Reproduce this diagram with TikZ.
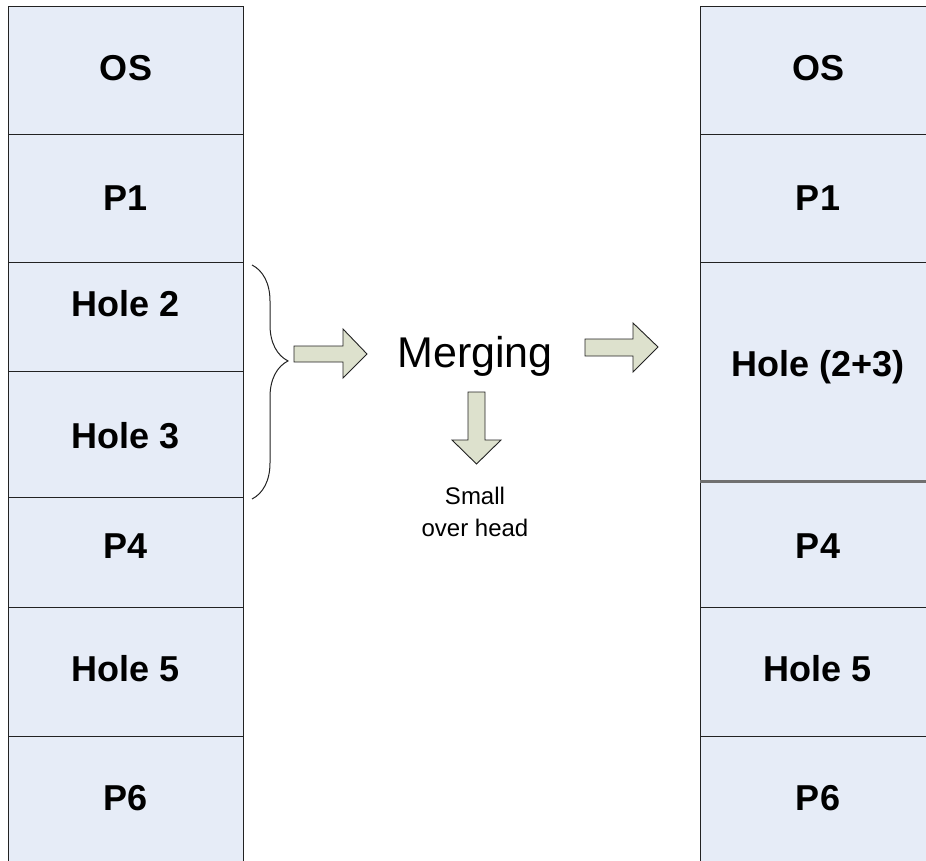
\documentclass[tikz,border=0pt]{standalone}
\usepackage{fontspec}
\setmainfont{Liberation Sans}
\usetikzlibrary{decorations.pathreplacing}
\definecolor{cellfill}{HTML}{E6ECF7}
\definecolor{arrowfill}{HTML}{DDE1CD}
\definecolor{edge}{HTML}{222222}
\definecolor{splitline}{HTML}{707070}
\begin{document}
\begin{tikzpicture}[x=1pt,y=-1pt,
  cell/.style={rectangle, draw=edge, line width=1pt, fill=cellfill,
               inner sep=0pt, outer sep=0pt, anchor=north west},
  lbl/.style={font=\fontsize{36}{40}\selectfont\bfseries, inner sep=0pt, anchor=base},
  blockarrow/.style={draw=edge, line width=0.9pt, fill=arrowfill, line join=miter},
  bigtext/.style={font=\fontsize{43}{48}\selectfont, inner sep=0pt, anchor=base},
  smalltext/.style={font=\fontsize{24}{28}\selectfont, inner sep=0pt, anchor=base}
]
\useasboundingbox (0,0) rectangle (926,861);

% memory before merging
\node[cell, minimum width=235pt, minimum height=128pt] (L1) at (8,7) {};
\node[cell, minimum width=235pt, minimum height=127pt] (L2) at (8,135) {};
\node[cell, minimum width=235pt, minimum height=109pt] (L3) at (8,262) {};
\node[cell, minimum width=235pt, minimum height=126pt] (L4) at (8,371) {};
\node[cell, minimum width=235pt, minimum height=110pt] (L5) at (8,497) {};
\node[cell, minimum width=235pt, minimum height=129pt] (L6) at (8,607) {};
\node[cell, minimum width=235pt, minimum height=140pt] (L7) at (8,736) {};

\node[lbl] (tL1) at (126,81) {OS};
\node[lbl] (tL2) at (126,211) {P1};
\node[lbl] (tL3) at (126,316) {Hole 2};
\node[lbl] (tL4) at (126,448) {Hole 3};
\node[lbl] (tL5) at (126,558) {P4};
\node[lbl] (tL6) at (126,681.5) {Hole 5};
\node[lbl] (tL7) at (126,810) {P6};

% memory after merging (runs past the right edge)
\node[cell, minimum width=260pt, minimum height=128pt] (R1) at (700,7) {};
\node[cell, minimum width=260pt, minimum height=127pt] (R2) at (700,135) {};
\node[cell, minimum width=260pt, minimum height=219pt] (R3) at (700,262) {};
\node[cell, minimum width=260pt, minimum height=126pt] (R4) at (700,481) {};
\node[cell, minimum width=260pt, minimum height=129pt] (R5) at (700,607) {};
\node[cell, minimum width=260pt, minimum height=140pt] (R6) at (700,736) {};
\draw[splitline, line width=3pt] (R3.south west) -- (R3.south east);

\node[lbl] (tR1) at (818,81) {OS};
\node[lbl] (tR2) at (818,211) {P1};
\node[lbl] (tR3) at (818,376) {Hole (2+3)};
\node[lbl] (tR4) at (818,558) {P4};
\node[lbl] (tR5) at (818,681.5) {Hole 5};
\node[lbl] (tR6) at (818,810) {P6};

% brace grouping the two holes
\coordinate (braceTop) at (252,265);
\coordinate (braceBot) at (252,499);
\draw[edge, line width=1pt, decorate,
      decoration={brace, amplitude=36pt, aspect=0.41}] (braceTop) -- (braceBot);

% merging step
\node[bigtext] (merge) at (475,367) {Merging};
\node[smalltext] (small) at (475,504) {Small};
\node[smalltext] (overhead) at (475,536) {over head};

% block arrows
\draw[blockarrow] (294,346) -- (343,346) -- (343,329) -- (367,354)
  -- (343,378) -- (343,362) -- (294,362) -- cycle;
\draw[blockarrow] (585,339) -- (633,339) -- (633,323) -- (658,347)
  -- (633,372) -- (633,356) -- (585,356) -- cycle;
\draw[blockarrow] (468,392) -- (485,392) -- (485,440) -- (501,440)
  -- (476.5,464) -- (452,440) -- (468,440) -- cycle;
\end{tikzpicture}
\end{document}
